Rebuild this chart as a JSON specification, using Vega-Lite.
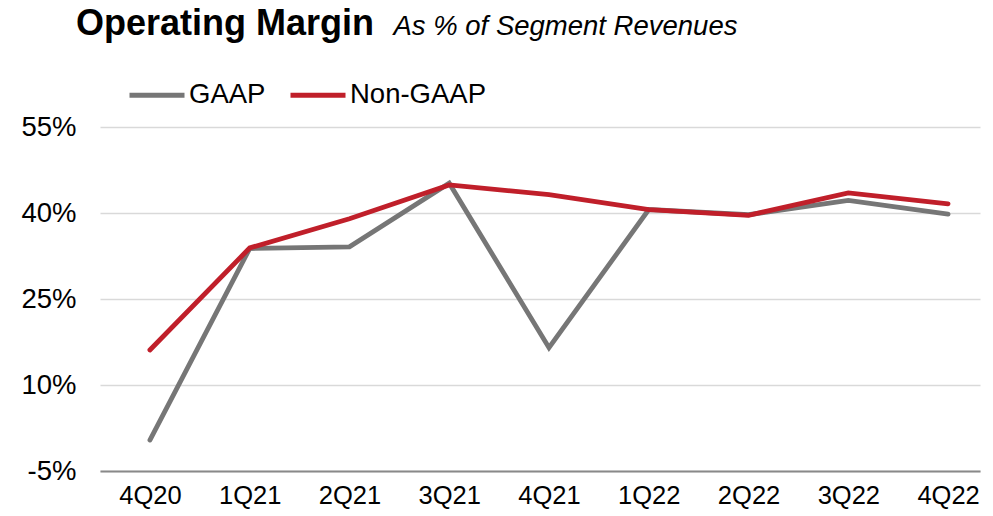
{
  "$schema": "https://vega.github.io/schema/vega-lite/v6.json",
  "width": 880,
  "height": 344,
  "autosize": {"type": "none"},
  "padding": {"left": 100, "top": 127, "right": 13, "bottom": 45},
  "background": "white",
  "title": {
    "text": "Operating Margin",
    "anchor": "start",
    "frame": "group",
    "font": "Liberation Sans",
    "fontSize": 36,
    "fontWeight": "bold",
    "color": "black",
    "baseline": "alphabetic",
    "dx": -24,
    "offset": -59
  },
  "data": {
    "values": [
      {"q": "4Q20", "series": "GAAP", "v": 0.4},
      {"q": "1Q21", "series": "GAAP", "v": 33.8},
      {"q": "2Q21", "series": "GAAP", "v": 34.1},
      {"q": "3Q21", "series": "GAAP", "v": 45.2},
      {"q": "4Q21", "series": "GAAP", "v": 16.5},
      {"q": "1Q22", "series": "GAAP", "v": 40.6},
      {"q": "2Q22", "series": "GAAP", "v": 39.7},
      {"q": "3Q22", "series": "GAAP", "v": 42.2},
      {"q": "4Q22", "series": "GAAP", "v": 39.8},
      {"q": "4Q20", "series": "Non-GAAP", "v": 16.1},
      {"q": "1Q21", "series": "Non-GAAP", "v": 33.9},
      {"q": "2Q21", "series": "Non-GAAP", "v": 39.0},
      {"q": "3Q21", "series": "Non-GAAP", "v": 44.9},
      {"q": "4Q21", "series": "Non-GAAP", "v": 43.2},
      {"q": "1Q22", "series": "Non-GAAP", "v": 40.6},
      {"q": "2Q22", "series": "Non-GAAP", "v": 39.6},
      {"q": "3Q22", "series": "Non-GAAP", "v": 43.5},
      {"q": "4Q22", "series": "Non-GAAP", "v": 41.6}
    ]
  },
  "mark": {"type": "line", "strokeWidth": 4.8, "strokeCap": "round", "strokeJoin": "miter"},
  "encoding": {
    "x": {
      "field": "q",
      "type": "ordinal",
      "sort": null,
      "scale": {"type": "point", "padding": 0.41, "align": 0.61},
      "axis": {
        "title": null,
        "labelAngle": 0,
        "labelFont": "Liberation Sans",
        "labelFontSize": 25.5,
        "labelColor": "black",
        "labelPadding": 12,
        "ticks": false,
        "domain": true,
        "domainColor": "#898989",
        "domainWidth": 2,
        "grid": false
      }
    },
    "y": {
      "field": "v",
      "type": "quantitative",
      "scale": {"domain": [-5, 55], "nice": false, "zero": false},
      "axis": {
        "values": [-5, 10, 25, 40, 55],
        "labelExpr": "datum.value + '%'",
        "labelFont": "Liberation Sans",
        "labelFontSize": 27.5,
        "labelColor": "black",
        "labelPadding": 24,
        "ticks": false,
        "domain": false,
        "grid": true,
        "gridColor": "#d9d9d9",
        "gridWidth": 1.5,
        "title": "As % of Segment Revenues",
        "titleFont": "Liberation Sans",
        "titleFontSize": 27.5,
        "titleFontStyle": "italic",
        "titleFontWeight": "normal",
        "titleColor": "black",
        "titleAngle": 0,
        "titleAlign": "left",
        "titleBaseline": "alphabetic",
        "titleX": 293,
        "titleY": -93
      }
    },
    "color": {
      "field": "series",
      "type": "nominal",
      "scale": {"domain": ["GAAP", "Non-GAAP"], "range": ["#767676", "#c01f2a"]},
      "legend": {
        "title": null,
        "orient": "none",
        "legendX": 27,
        "legendY": -62,
        "direction": "horizontal",
        "symbolType": "stroke",
        "symbolSize": 3025,
        "symbolStrokeWidth": 5,
        "labelFont": "Liberation Sans",
        "labelFontSize": 27.5,
        "labelColor": "black",
        "labelOffset": 2,
        "columnPadding": 14
      }
    }
  },
  "config": {"view": {"stroke": null}}
}
